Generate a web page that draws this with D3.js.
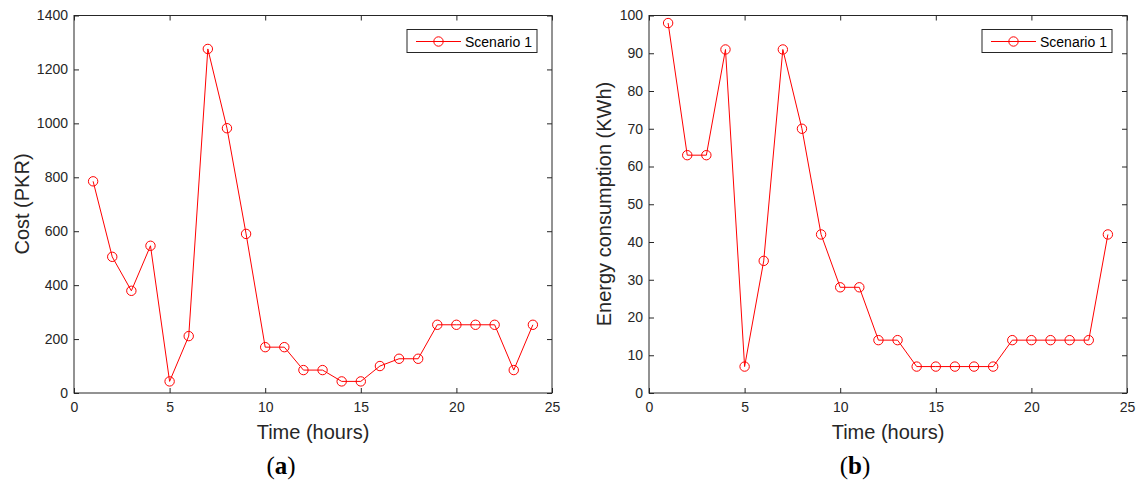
<!DOCTYPE html>
<html>
<head>
<meta charset="utf-8">
<script src="https://cdn.jsdelivr.net/npm/d3@7"></script>
<style>
  body { margin: 0; background: #fff; }
  svg { display: block; }
  .tick text { font-family: "Liberation Sans", Arial, sans-serif; font-size: 14px; fill: #262626; }
  .tick line { stroke: #262626; }
</style>
</head>
<body>
<div id="chart"></div>
<script>
// hours 1..24
const hours = d3.range(1, 25);
const costPKR = [785, 505, 379, 546, 43, 211, 1276, 982, 590, 170, 170, 85,
                 85, 43, 43, 100, 127, 127, 253, 253, 253, 253, 85, 253];
const energyKWh = [98, 63, 63, 91, 7, 35, 91, 70, 42, 28, 28, 14,
                   14, 7, 7, 7, 7, 7, 14, 14, 14, 14, 14, 42];
const xTicks = [0, 5, 10, 15, 20, 25];
const costTicks = [0, 200, 400, 600, 800, 1000, 1200, 1400];
const energyTicks = [0, 10, 20, 30, 40, 50, 60, 70, 80, 90, 100];
const seriesName = 'Scenario 1';

const width = 1138, height = 482;
const svg = d3.select('#chart').append('svg').attr('width', width).attr('height', height);
const fmt = d3.format('d');

function drawPanel(o) {
  const x = d3.scaleLinear().domain([0, 25]).range([o.left, o.right]);
  const y = d3.scaleLinear().domain([0, o.ymax]).range([393, 15.5]);
  const g = svg.append('g');

  g.append('g').attr('transform', 'translate(0,393)')
    .call(d3.axisBottom(x).tickValues(xTicks).tickFormat(fmt).tickSizeInner(-5).tickSizeOuter(0).tickPadding(9))
    .call(a => a.select('.domain').remove());
  g.append('g').attr('transform', 'translate(0,15.5)')
    .call(d3.axisTop(x).tickValues(xTicks).tickSizeInner(-5).tickSizeOuter(0).tickFormat(''))
    .call(a => a.select('.domain').remove());
  g.append('g').attr('transform', `translate(${o.left},0)`)
    .call(d3.axisLeft(y).tickValues(o.yTicks).tickFormat(fmt).tickSizeInner(-5).tickSizeOuter(0).tickPadding(6))
    .call(a => a.select('.domain').remove());
  g.append('g').attr('transform', `translate(${o.right},0)`)
    .call(d3.axisRight(y).tickValues(o.yTicks).tickSizeInner(-5).tickSizeOuter(0).tickFormat(''))
    .call(a => a.select('.domain').remove());

  g.append('rect')
    .attr('x', o.left).attr('y', 15.5)
    .attr('width', o.right - o.left).attr('height', 393 - 15.5)
    .attr('fill', 'none').attr('stroke', '#262626').attr('stroke-width', 1);

  const line = d3.line().x((d, i) => x(hours[i])).y(d => y(d));
  g.append('path').datum(o.values)
    .attr('d', line).attr('fill', 'none').attr('stroke', '#ff0000').attr('stroke-width', 1);
  g.selectAll('circle.pt').data(o.values).enter().append('circle')
    .attr('class', 'pt')
    .attr('cx', (d, i) => x(hours[i])).attr('cy', d => y(d)).attr('r', 4.7)
    .attr('fill', 'none').attr('stroke', '#ff0000').attr('stroke-width', 1);

  // legend
  const lx = o.right - 145, ly = 29.5;
  g.append('rect').attr('x', lx).attr('y', ly).attr('width', 130).attr('height', 23)
    .attr('fill', '#fff').attr('stroke', '#262626').attr('stroke-width', 1);
  g.append('line').attr('x1', lx + 9).attr('x2', lx + 54).attr('y1', ly + 12).attr('y2', ly + 12)
    .attr('stroke', '#ff0000');
  g.append('circle').attr('cx', lx + 31.5).attr('cy', ly + 12).attr('r', 4.7)
    .attr('fill', 'none').attr('stroke', '#ff0000');
  g.append('text').attr('x', lx + 58).attr('y', ly + 17)
    .style('font-family', '"Liberation Sans", Arial, sans-serif').style('font-size', '14px')
    .attr('fill', '#000').text(seriesName);

  // axis labels
  g.append('text').attr('x', (o.left + o.right) / 2).attr('y', 439)
    .attr('text-anchor', 'middle')
    .style('font-family', '"Liberation Sans", Arial, sans-serif').style('font-size', '20px')
    .attr('fill', '#262626').text('Time (hours)');
  g.append('text').attr('transform', `translate(${o.ylabX},204) rotate(-90)`)
    .attr('text-anchor', 'middle')
    .style('font-family', '"Liberation Sans", Arial, sans-serif').style('font-size', '20px')
    .attr('fill', '#262626').text(o.ylab);

  // caption
  const cap = g.append('text').attr('x', o.capX).attr('y', 474).attr('text-anchor', 'middle')
    .style('font-family', '"Liberation Serif", "DejaVu Serif", serif').style('font-size', '25px')
    .attr('fill', '#000');
  cap.append('tspan').text('(');
  cap.append('tspan').style('font-weight', 'bold').text(o.cap);
  cap.append('tspan').text(')');
}

drawPanel({ left: 74, right: 552, ymax: 1400, yTicks: costTicks, values: costPKR,
            ylab: 'Cost (PKR)', ylabX: 29, cap: 'a', capX: 281 });
drawPanel({ left: 649, right: 1127, ymax: 100, yTicks: energyTicks, values: energyKWh,
            ylab: 'Energy consumption (KWh)', ylabX: 611, cap: 'b', capX: 855 });
</script>
</body>
</html>
